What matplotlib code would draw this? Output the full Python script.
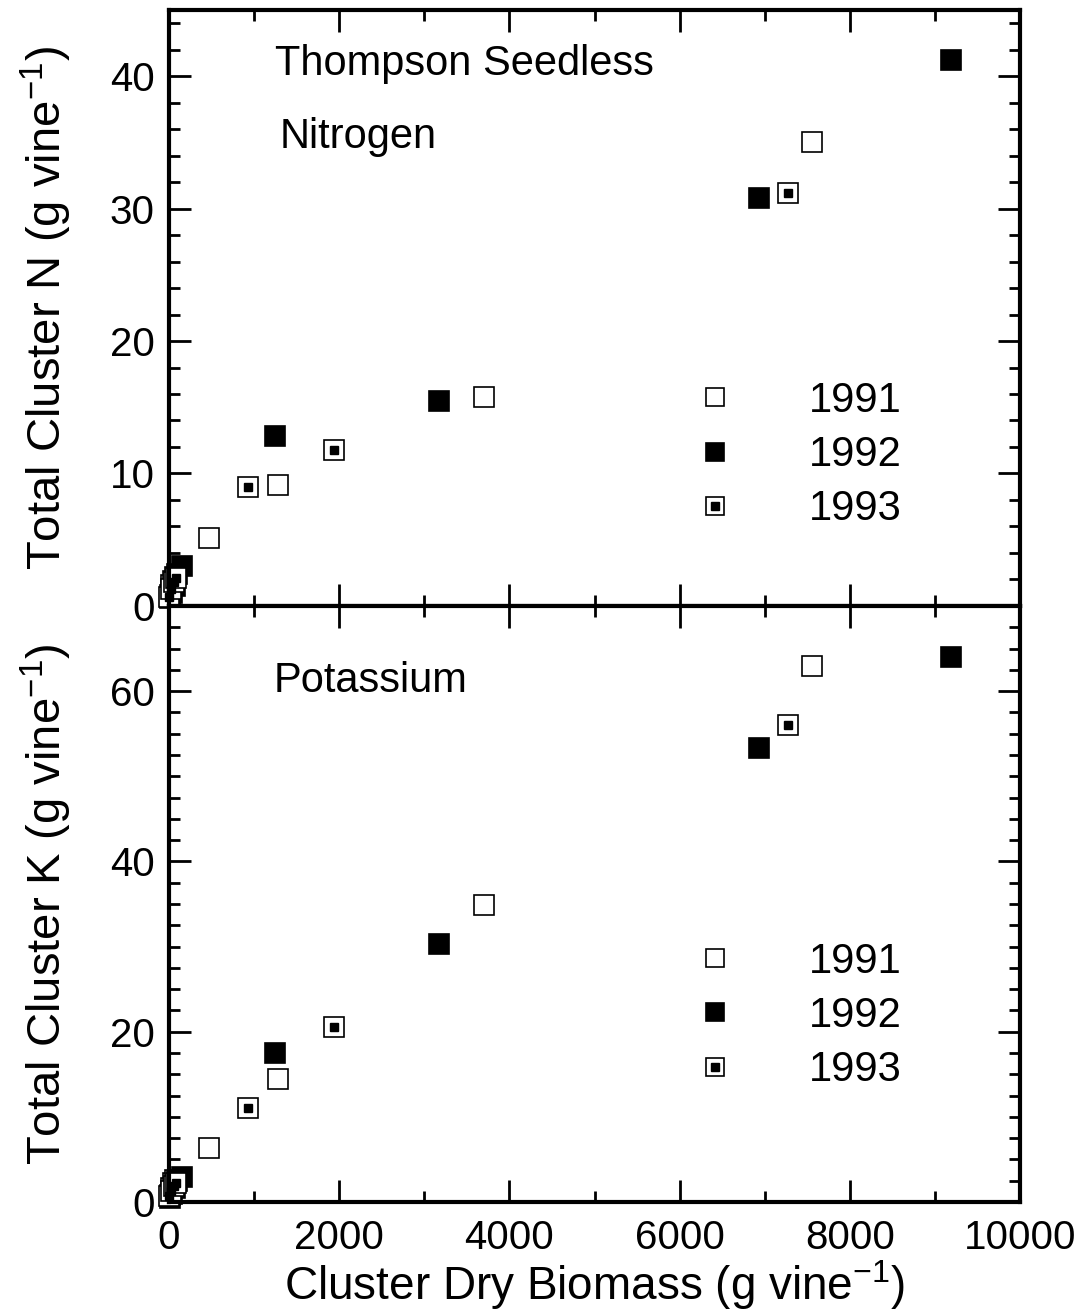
import numpy as np
import matplotlib.pyplot as plt
from matplotlib.lines import Line2D
from matplotlib.ticker import MultipleLocator

plt.rcParams['font.family'] = ['Liberation Sans', 'DejaVu Sans']

# Cluster dry biomass (g/vine) for each year
x_1991 = [10, 30, 50, 70, 470, 1280, 3700, 7550]
x_1992 = [20, 40, 70, 100, 150, 1250, 3170, 6930, 9180]
x_1993 = [5, 25, 60, 90, 930, 1940, 7270]

# Total cluster N (g/vine)
n_1991 = [0.8, 1.6, 1.9, 2.2, 5.1, 9.1, 15.8, 35.0]
n_1992 = [0.6, 1.0, 1.5, 2.4, 3.0, 12.8, 15.5, 30.8, 41.2]
n_1993 = [0.7, 1.3, 1.8, 2.1, 9.0, 11.8, 31.2]

# Total cluster K (g/vine)
k_1991 = [0.8, 1.6, 2.2, 2.6, 6.3, 14.4, 34.9, 63.0]
k_1992 = [0.5, 1.0, 1.6, 2.5, 2.9, 17.5, 30.3, 53.3, 64.0]
k_1993 = [0.7, 1.3, 1.9, 2.2, 11.0, 20.5, 56.0]

years = ['1991', '1992', '1993']

fig = plt.figure(figsize=(10.82, 13.13), dpi=100)
ax1 = fig.add_axes([0.156, 0.5385, 0.787, 0.454])
ax2 = fig.add_axes([0.156, 0.0845, 0.787, 0.454])

ms = 14
unit = '(g vine$\\mathregular{^{-1}}$)'


def draw(ax, y91, y92, y93, leg_y):
    ax.plot(x_1991, y91, 's', ms=ms, mfc='white', mec='black', mew=1.2, ls='none', clip_on=False)
    ax.plot(x_1992, y92, 's', ms=ms, mfc='black', mec='black', mew=1.2, ls='none', clip_on=False)
    ax.plot(x_1993, y93, 's', ms=ms, mfc='white', mec='black', mew=1.2, ls='none', clip_on=False)
    ax.plot(x_1993, y93, 's', ms=5.5, mfc='black', mec='black', ls='none', clip_on=False)

    h91 = Line2D([], [], marker='s', ms=13.5, mfc='white', mec='black', mew=1.2, ls='none')
    h92 = Line2D([], [], marker='s', ms=13.5, mfc='black', mec='black', mew=1.2, ls='none')
    h93a = Line2D([], [], marker='s', ms=13.5, mfc='white', mec='black', mew=1.2, ls='none')
    h93b = Line2D([], [], marker='s', ms=5.5, mfc='black', mec='black', ls='none')
    ax.legend([h91, h92, (h93a, h93b)], years, loc='center left', bbox_to_anchor=(0.617, leg_y),
              frameon=False, fontsize=30, handletextpad=1.75, labelspacing=0.34,
              borderpad=0, borderaxespad=0, handlelength=1.0)

    ax.set_xlim(0, 10000)
    ax.xaxis.set_major_locator(MultipleLocator(2000))
    ax.xaxis.set_minor_locator(MultipleLocator(1000))
    ax.tick_params(which='both', direction='in', top=True, right=True, width=2, labelsize=29)
    ax.tick_params(which='major', length=16)
    ax.tick_params(which='minor', length=8)
    ax.tick_params(axis='y', pad=10)
    ax.tick_params(axis='x', pad=12)
    for sp in ax.spines.values():
        sp.set_linewidth(3)


draw(ax1, n_1991, n_1992, n_1993, 0.253)
ax1.set_ylim(0, 45)
ax1.yaxis.set_major_locator(MultipleLocator(10))
ax1.yaxis.set_minor_locator(MultipleLocator(2))
ax1.tick_params(labelbottom=False)
ax1.set_ylabel('Total Cluster N ' + unit, fontsize=34, labelpad=26)
ax1.text(0.125, 0.89, 'Thompson Seedless', transform=ax1.transAxes, fontsize=30)
ax1.text(0.13, 0.768, 'Nitrogen', transform=ax1.transAxes, fontsize=30)

draw(ax2, k_1991, k_1992, k_1993, 0.312)
ax2.set_ylim(0, 70)
ax2.yaxis.set_major_locator(MultipleLocator(20))
ax2.yaxis.set_minor_locator(MultipleLocator(2.5))
ax2.set_ylabel('Total Cluster K ' + unit, fontsize=34, labelpad=26)
ax2.set_xlabel('Cluster Dry Biomass ' + unit, fontsize=33, labelpad=1)
ax2.text(0.123, 0.855, 'Potassium', transform=ax2.transAxes, fontsize=30)

fig.savefig('out.png', dpi=100)
